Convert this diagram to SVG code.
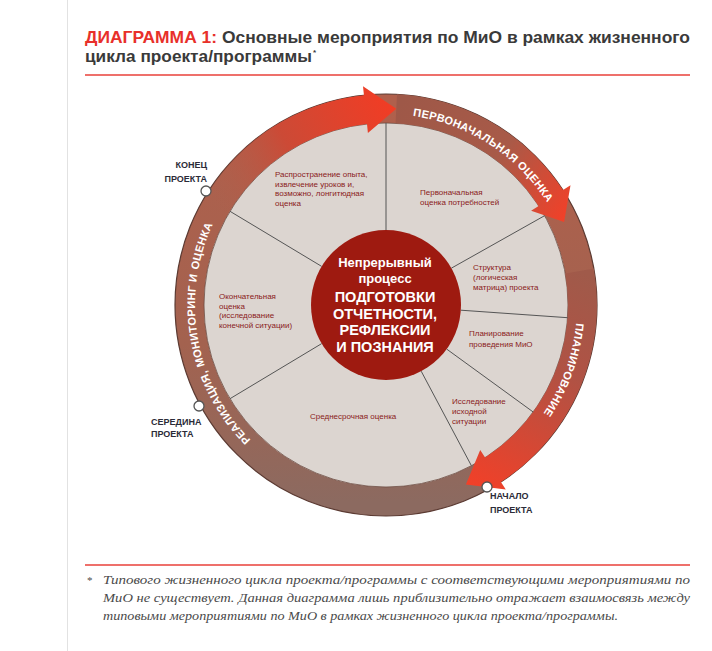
<svg xmlns="http://www.w3.org/2000/svg" width="712" height="651" viewBox="0 0 712 651">
<defs>
<style>
.title{font-family:"Liberation Sans",Arial,sans-serif;font-weight:bold;font-size:16.5px;fill:#3a3a3a}
.red{fill:#e8302a}
.ring{font-family:"Liberation Sans",Arial,sans-serif;font-weight:bold;font-size:11px;fill:#ffffff;letter-spacing:0.3px}
.sec{font-family:"Liberation Sans",Arial,sans-serif;font-size:8px;fill:#8a1b1b}
.ctr{font-family:"Liberation Sans",Arial,sans-serif;font-weight:bold;fill:#ffffff;text-anchor:middle}
.nl{font-family:"Liberation Sans",Arial,sans-serif;font-weight:bold;font-size:9px;fill:#2b2b38}
.foot{font-family:"Liberation Serif","Times New Roman",serif;font-style:italic;font-size:13px;fill:#4a4a4a}
.sl{stroke:#555555;stroke-width:1;fill:none}
.node{fill:#ffffff;stroke:#555555;stroke-width:1.3}
</style>
<linearGradient id="ringG" x1="0" y1="0" x2="0" y2="1">
<stop offset="0" stop-color="#b0604c"/>
<stop offset="0.6" stop-color="#a3624f"/>
<stop offset="1" stop-color="#8c6a60"/>
</linearGradient>
<linearGradient id="a1" gradientUnits="userSpaceOnUse" x1="215.8" y1="206.7" x2="396.3" y2="108.8">
<stop offset="0" stop-color="#b0604c" stop-opacity="0"/>
<stop offset="0.45" stop-color="#cc4a36"/>
<stop offset="1" stop-color="#f23c24"/>
</linearGradient>
<linearGradient id="a2" gradientUnits="userSpaceOnUse" x1="396" y1="109" x2="564" y2="222">
<stop offset="0" stop-color="#9e5848"/>
<stop offset="0.55" stop-color="#a85a48"/>
<stop offset="1" stop-color="#f24028"/>
</linearGradient>
<linearGradient id="a3" gradientUnits="userSpaceOnUse" x1="579.5" y1="270.9" x2="466" y2="484.5">
<stop offset="0" stop-color="#a05a4a"/>
<stop offset="0.4" stop-color="#b05244"/>
<stop offset="1" stop-color="#f24028"/>
</linearGradient>
<path id="tp1" d="M352.8,116.9 A191,191 0 0 1 571.3,258.8"/>
<path id="tp2" d="M565.5,239.7 A191,191 0 0 1 481.5,470.4"/>
<path id="tp3" d="M290.5,470.4 A191,191 0 0 1 239.7,182.2"/>
</defs>
<rect width="712" height="651" fill="#ffffff"/>
<line x1="67.5" y1="0" x2="67.5" y2="651" stroke="#e2e2e2" stroke-width="1"/>

<g id="title">
<text class="title" x="85" y="43" textLength="605" lengthAdjust="spacingAndGlyphs"><tspan class="red">ДИАГРАММА 1:</tspan> Основные мероприятия по МиО в рамках жизненного</text>
<text class="title" x="85" y="62" textLength="227" lengthAdjust="spacingAndGlyphs">цикла проекта/программы</text>
<text class="title" x="313" y="55" style="font-size:8px">*</text>
<line x1="85" y1="75" x2="690" y2="75" stroke="#e8413a" stroke-width="1.5"/>
</g>

<g id="wheel">
<circle cx="386" cy="305" r="196.5" fill="none" stroke="url(#ringG)" stroke-width="29"/>
<circle cx="386" cy="305" r="182" fill="#dcd5d0" stroke="#6b4a40" stroke-width="0.8"/>
<circle cx="386" cy="305" r="211" fill="none" stroke="#5b3a32" stroke-width="1.2"/>
</g>

<g id="arrows">
<path d="M397.0,94.3 A211,211 0 0 1 563.0,190.1 L570.5,185.2 L564.1,222.0 L531.1,210.8 L538.6,205.9 A182,182 0 0 0 395.5,123.3 Z" fill="url(#a2)"/>
<path d="M593.8,268.4 A211,211 0 0 1 500.9,482.0 L505.8,489.5 L465.9,484.5 L480.2,450.1 L485.1,457.6 A182,182 0 0 0 565.2,273.4 Z" fill="url(#a3)"/>
<path d="M203.3,199.5 A211,211 0 0 1 363.95,95.2 L363.0,86.2 L396.3,108.8 L367.9,133.0 L367.0,124.0 A182,182 0 0 0 228.4,214 Z" fill="url(#a1)"/>
</g>

<g id="ring-labels">
<text class="ring"><textPath href="#tp1" startOffset="117" text-anchor="middle">ПЕРВОНАЧАЛЬНАЯ</textPath></text>
<text class="ring"><textPath href="#tp1" startOffset="201.5" text-anchor="middle">ОЦЕНКА</textPath></text>
<text class="ring"><textPath href="#tp2" startOffset="50%" text-anchor="middle">ПЛАНИРОВАНИЕ</textPath></text>
<text class="ring"><textPath href="#tp3" startOffset="92" text-anchor="middle">РЕАЛИЗАЦИЯ,</textPath></text>
<text class="ring"><textPath href="#tp3" startOffset="184.4" text-anchor="middle">МОНИТОРИНГ И</textPath></text>
<text class="ring"><textPath href="#tp3" startOffset="259.1" text-anchor="middle">ОЦЕНКА</textPath></text>
</g>

<g id="connectors">
<line class="sl" x1="386" y1="230" x2="386" y2="123"/>
<line class="sl" x1="451.3" y1="268.2" x2="544.6" y2="215.7"/>
<line class="sl" x1="460.8" y1="310.2" x2="567.6" y2="317.7"/>
<line class="sl" x1="446.7" y1="349.1" x2="533.2" y2="412.0"/>
<line class="sl" x1="421.2" y1="371.2" x2="471.4" y2="465.7"/>
<line class="sl" x1="321.7" y1="343.6" x2="230.0" y2="398.7"/>
<line class="sl" x1="321.7" y1="266.4" x2="230.0" y2="211.3"/>
</g>

<g id="center">
<circle cx="386" cy="305" r="75" fill="#9e1a10"/>
<text class="ctr" x="385" y="267" font-size="13">Непрерывный</text>
<text class="ctr" x="385" y="283" font-size="13">процесс</text>
<text class="ctr" x="385" y="302" font-size="14.5">ПОДГОТОВКИ</text>
<text class="ctr" x="385" y="318.5" font-size="14.5">ОТЧЕТНОСТИ,</text>
<text class="ctr" x="385" y="335" font-size="14.5">РЕФЛЕКСИИ</text>
<text class="ctr" x="385" y="351.5" font-size="14.5">И ПОЗНАНИЯ</text>
</g>

<g id="s-dissemination">
<text class="sec" x="275" y="177"><tspan x="275">Распространение опыта,</tspan><tspan x="275" dy="9.5">извлечение уроков и,</tspan><tspan x="275" dy="9.5">возможно, лонгитюдная</tspan><tspan x="275" dy="9.5">оценка</tspan></text>
</g>
<g id="s-needs">
<text class="sec" x="420" y="195"><tspan x="420">Первоначальная</tspan><tspan x="420" dy="10">оценка потребностей</tspan></text>
</g>
<g id="s-logframe">
<text class="sec" x="473" y="270"><tspan x="473">Структура</tspan><tspan x="473" dy="10">(логическая</tspan><tspan x="473" dy="10">матрица) проекта</tspan></text>
</g>
<g id="s-planning">
<text class="sec" x="469" y="336"><tspan x="469">Планирование</tspan><tspan x="469" dy="11">проведения МиО</tspan></text>
</g>
<g id="s-baseline">
<text class="sec" x="452" y="404"><tspan x="452">Исследование</tspan><tspan x="452" dy="10">исходной</tspan><tspan x="452" dy="10">ситуации</tspan></text>
</g>
<g id="s-midterm">
<text class="sec" x="310" y="419">Среднесрочная оценка</text>
</g>
<g id="s-final">
<text class="sec" x="219" y="299"><tspan x="219">Окончательная</tspan><tspan x="219" dy="9.5">оценка</tspan><tspan x="219" dy="9.5">(исследование</tspan><tspan x="219" dy="9.5">конечной ситуации)</tspan></text>
</g>

<g id="n-end">
<circle class="node" cx="206" cy="191" r="5"/>
<text class="nl" x="207" y="168" text-anchor="end"><tspan x="207">КОНЕЦ</tspan><tspan x="207" dy="14">ПРОЕКТА</tspan></text>
</g>
<g id="n-mid">
<circle class="node" cx="199" cy="406" r="5"/>
<text class="nl" x="151" y="425"><tspan x="151">СЕРЕДИНА</tspan><tspan x="151" dy="12">ПРОЕКТА</tspan></text>
</g>
<g id="n-start">
<circle class="node" cx="487" cy="487" r="5"/>
<text class="nl" x="490" y="499"><tspan x="490">НАЧАЛО</tspan><tspan x="490" dy="14">ПРОЕКТА</tspan></text>
</g>

<g id="footnote">
<line x1="85" y1="565" x2="690" y2="565" stroke="#e8413a" stroke-width="1.5"/>
<text class="foot" x="87" y="584" style="font-style:normal;font-size:11px">*</text>
<text class="foot" x="103" y="584" textLength="587" lengthAdjust="spacingAndGlyphs">Типового жизненного цикла проекта/программы с соответствующими мероприятиями по</text>
<text class="foot" x="103" y="602" textLength="587" lengthAdjust="spacingAndGlyphs">МиО не существует. Данная диаграмма лишь приблизительно отражает взаимосвязь между</text>
<text class="foot" x="103" y="620" textLength="515" lengthAdjust="spacingAndGlyphs">типовыми мероприятиями по МиО в рамках жизненного цикла проекта/программы.</text>
</g>
</svg>
